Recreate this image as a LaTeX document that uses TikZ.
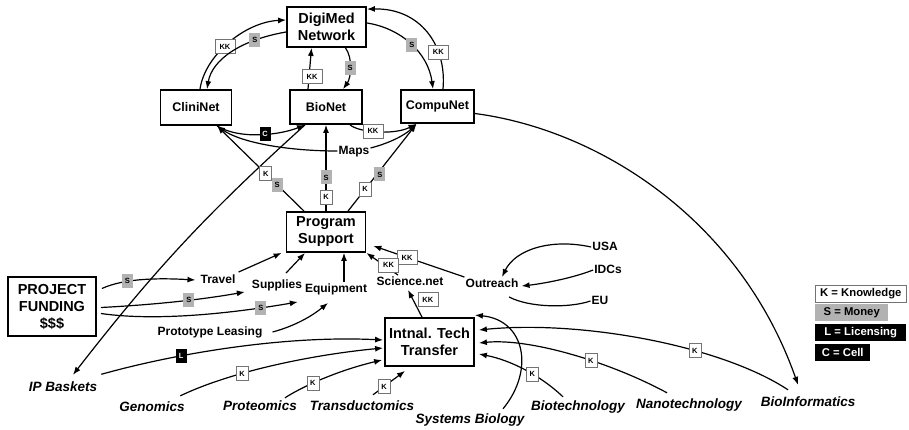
\documentclass[tikz,border=0pt]{standalone}
\usepackage{fontspec}
\setmainfont{Liberation Sans}
\usetikzlibrary{arrows.meta}
\begin{document}
\begin{tikzpicture}[x=1pt,y=-1pt,
  every node/.style={font=\bfseries},
  bigbox/.style={draw, line width=1.8pt, fill=white, align=center, inner sep=1pt,
    font=\fontsize{14.5}{17}\selectfont\bfseries},
  netbox/.style={bigbox, font=\fontsize{12.5}{14}\selectfont\bfseries},
  word/.style={inner sep=1pt, text height=9pt, text depth=2.5pt,
    font=\fontsize{12}{14}\selectfont\bfseries},
  field/.style={inner sep=1pt, text height=10pt, text depth=3pt,
    font=\fontsize{13.5}{15}\selectfont\bfseries\itshape},
  tag/.style={inner sep=0pt, minimum height=14pt, minimum width=12pt,
    font=\fontsize{7.5}{8}\selectfont\bfseries},
  ktag/.style={tag, draw=black!55, line width=0.7pt, fill=white},
  kktag/.style={ktag, minimum width=20pt},
  stag/.style={tag, fill=black!30, minimum width=11pt},
  dtag/.style={tag, fill=black, text=white, minimum width=11pt},
  link/.style={line width=1.2pt, -{Latex[length=8pt,width=6pt]}},
  plain/.style={line width=1.2pt},
  key/.style={anchor=west, inner sep=0pt, minimum height=17pt,
    font=\fontsize{11.3}{13}\selectfont\bfseries}
]
\useasboundingbox (0,0) rectangle (909,430);
\fill[white] (0,0) rectangle (909,430);

% main boxes
\node[bigbox, minimum width=79pt, minimum height=40pt] (dm) at (326.5,27) {DigiMed\\Network};
\node[netbox, minimum width=71pt, minimum height=35pt] (cli) at (196,107.5) {CliniNet};
\node[netbox, minimum width=72pt, minimum height=34pt] (bio) at (326,107) {BioNet};
\node[netbox, minimum width=73pt, minimum height=33pt] (cpu) at (437.5,106.5) {CompuNet};
\node[bigbox, minimum width=79pt, minimum height=40pt] (ps) at (326,232) {Program\\Support};
\node[bigbox, minimum width=88pt, minimum height=59pt] (pf) at (52,306.5) {PROJECT\\FUNDING\\\$\$\$};
\node[bigbox, minimum width=89pt, minimum height=48pt] (itt) at (429.5,342) {Intnal. Tech\\Transfer};

% plain labels
\node[word] (maps) at (354,151) {Maps};
\node[word] (travel) at (218,280) {Travel};
\node[word] (supplies) at (277,285) {Supplies};
\node[word] (equipment) at (336,289) {Equipment};
\node[word] (proto) at (210,332) {Prototype Leasing};
\node[word] (science) at (410,282) {Science.net};
\node[word] (outreach) at (492,284) {Outreach};
\node[word] (usa) at (605,247) {USA};
\node[word] (idcs) at (608,270) {IDCs};
\node[word] (eu) at (600,301) {EU};

% fields
\node[field] (ipb) at (63,388) {IP Baskets};
\node[field] (genomics) at (152,408) {Genomics};
\node[field] (proteomics) at (260,407) {Proteomics};
\node[field] (transd) at (362,407) {Transductomics};
\node[field] (sysbio) at (470,420) {Systems Biology};
\node[field] (biotech) at (578,407) {Biotechnology};
\node[field] (nano) at (689,405) {Nanotechnology};
\node[field] (bioinf) at (808,403) {BioInformatics};

% legend
\node[key, draw=black!55, line width=.7pt, fill=white, minimum width=91pt] (lk) at (815,293.5) {K = Knowledge};
\node[key, fill=black!30, minimum width=73pt] (ls) at (815,312.5) {S = Money};
\node[key, fill=black, text=white, minimum width=91pt] (ll) at (815,332.5) {L = Licensing};
\node[key, fill=black, text=white, minimum width=55pt] (lc) at (815,352.5) {C = Cell};

% DigiMed ring
\draw[link] ([xshift=4pt]cli.north) .. controls (205,55) and (245,22) .. ([yshift=7pt]dm.west) node[kktag,pos=.45]{KK};
\draw[link] ([yshift=-5pt]dm.west) .. controls (240,40) and (212,60) .. ([xshift=11pt]cli.north) node[stag,pos=.25]{S};
\draw[link] ([xshift=-18pt]bio.north) -- ([xshift=-15pt]dm.south) node[kktag,pos=.3,xshift=3pt]{KK};
\draw[link] ([xshift=19pt]dm.south) .. controls (353,58) and (351,78) .. ([xshift=17pt]bio.north) node[stag,pos=.5]{S};
\draw[link] ([yshift=4pt]dm.east) .. controls (400,28) and (428,52) .. ([xshift=-4.5pt]cpu.north) node[stag,pos=.52]{S};
\draw[link] ([xshift=5.5pt]cpu.north) .. controls (447,45) and (420,8) .. ([yshift=-3pt]dm.north east) node[kktag,pos=.3]{KK};

% links among the nets
\draw[link] ([xshift=21pt]cli.south) .. controls (240,140) and (280,135) .. ([xshift=-21pt]bio.south) node[dtag,pos=.55]{C};
\draw[link] (maps.west) .. controls (285,151) and (240,142) .. ([xshift=21pt]cli.south);
\draw[link] ([yshift=3pt]maps.east) .. controls (390,143) and (405,135) .. ([xshift=-21pt]cpu.south);
\draw[link] ([xshift=24pt]bio.south) .. controls (360,133) and (395,135) .. ([xshift=-21pt]cpu.south) node[kktag,pos=.42]{KK};
\draw[link] ([xshift=-21pt]bio.south) to[bend right=5] ([xshift=10pt,yshift=5.5pt]ipb.north);

% Program Support fan
\draw[link] ([xshift=-22pt]ps.north) -- ([xshift=21pt]cli.south) node[stag,pos=.31]{S} node[ktag,pos=.44]{K};
\draw[link] (ps.north) -- (bio.south) node[ktag,pos=.16]{K} node[stag,pos=.39]{S};
\draw[link] ([xshift=22pt]ps.north) -- ([xshift=-21pt]cpu.south) node[ktag,pos=.25]{K} node[stag,pos=.42,xshift=3pt]{S};

% funding
\draw[link] ([xshift=5pt,yshift=18pt]pf.east) .. controls (125,278) and (160,278) .. ([xshift=-4pt]travel.west) node[stag,pos=.32]{S};
\draw[link] ([xshift=2pt,yshift=1pt]travel.north east) -- ([xshift=-4pt]ps.south west);
\draw[link] ([xshift=4pt,yshift=-1pt]pf.east) .. controls (150,305) and (200,300) .. ([xshift=-6pt]supplies.south west) node[stag,pos=.6]{S};
\draw[link] ([xshift=9pt,yshift=5pt]supplies.north) -- ([xshift=-21pt]ps.south);
\draw[link] ([xshift=4pt,yshift=-7pt]pf.east) .. controls (160,322) and (240,312) .. ([xshift=-6pt,yshift=-6pt]equipment.south west) node[stag,pos=.8]{S};
\draw[link] ([xshift=8pt]equipment.north) -- ([xshift=18pt]ps.south);
\draw[link] ([xshift=9pt]proto.east) .. controls (295,326) and (312,316) .. ([xshift=-8pt,yshift=-7pt]equipment.south);

% outreach
\draw[link] (outreach.north west) -- ([xshift=7pt,yshift=7pt]ps.south east) node[kktag,pos=.63]{KK};
\draw[link] ([xshift=-12pt]science.north) -- (ps.south east) node[kktag,pos=.3,yshift=3pt]{KK};
\draw[link] ([xshift=-7.5pt]itt.north) -- ([xshift=-2pt,yshift=-1pt]science.south) node[kktag,pos=.65,xshift=15pt]{KK};
\draw[link] (usa.west) .. controls (550,238) and (515,250) .. ([xshift=10pt]outreach.north);
\draw[link] (idcs.west) .. controls (570,279) and (540,284) .. ([xshift=2pt,yshift=-2pt]outreach.east);
\draw[plain] ([xshift=17pt,yshift=-6pt]outreach.south) .. controls (530,308) and (570,308) .. (eu.west);

% into technology transfer
\draw[link] ([xshift=3pt,yshift=6pt]ipb.north east) .. controls (170,355) and (280,335) .. ([xshift=-1pt,yshift=2pt]itt.west) node[dtag,pos=.33]{L};
\draw[link] ([xshift=-5.5pt,yshift=4.5pt]genomics.north east) .. controls (230,372) and (310,355) .. ([xshift=-1pt,yshift=-6pt]itt.west) node[ktag,pos=.35]{K};
\draw[link] ([xshift=-13pt,yshift=1.5pt]proteomics.north east) .. controls (305,385) and (340,370) .. ([xshift=-2pt,yshift=-18pt]itt.west) node[ktag,pos=.37]{K};
\draw[link] ([xshift=11pt,yshift=4.5pt]transd.north) -- ([xshift=-24.5pt,yshift=-4pt]itt.south) node[ktag,pos=.35]{K};
\draw[link] ([xshift=33pt,yshift=3.5pt]sysbio.north) .. controls (535,370) and (525,320) .. ([yshift=2pt]itt.north east);
\draw[link] ([xshift=-15pt,yshift=2.5pt]biotech.north) .. controls (540,375) and (510,360) .. ([xshift=4pt,yshift=-12pt]itt.east) node[ktag,pos=.4]{K};
\draw[link] ([xshift=-22pt,yshift=4.5pt]nano.north) .. controls (610,362) and (530,338) .. ([xshift=4pt,yshift=-1pt]itt.east) node[ktag,pos=.4]{K};
\draw[link] ([xshift=-20pt,yshift=5.5pt]bioinf.north) .. controls (720,345) and (580,320) .. ([xshift=4pt,yshift=12pt]itt.east) node[ktag,pos=.35]{K};
\draw[link] ([yshift=-7pt]cpu.east) .. controls (600,130) and (740,220) .. ([xshift=-10pt,yshift=10.5pt]bioinf.north);
\end{tikzpicture}
\end{document}
